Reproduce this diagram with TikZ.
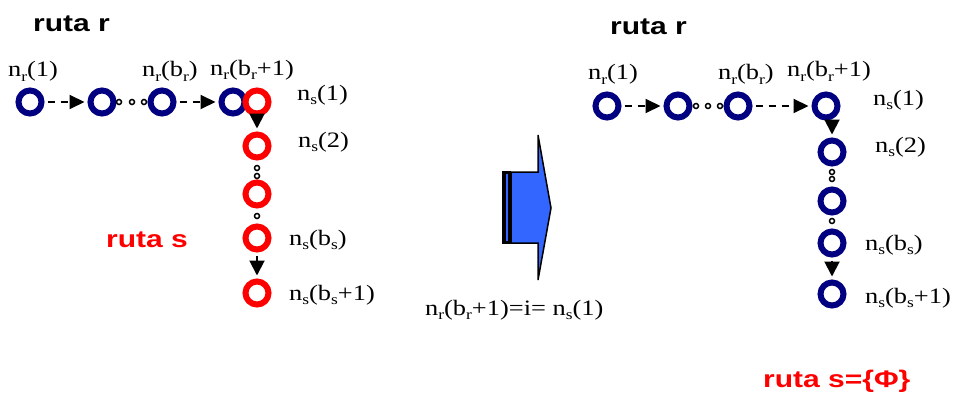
\documentclass[tikz,border=0pt]{standalone}
\usepackage{fontspec}
\setmainfont{Liberation Serif}[FakeStretch=1.2]
\newfontfamily\rutaface{Liberation Sans}[FakeStretch=1.25]
\usetikzlibrary{arrows.meta}
\definecolor{navyc}{RGB}{0,0,128}
\definecolor{redc}{RGB}{255,0,0}
\definecolor{arrowblue}{RGB}{51,102,255}
\newcommand\sbs[1]{\raisebox{-4.5pt}{\fontsize{14.5}{15}\selectfont #1}}
\newcommand\tnr{\fontsize{22}{24}\selectfont}
\newcommand\rutaf{\fontsize{24}{26}\selectfont\rutaface\bfseries}
\tikzset{
  nd/.style={circle, minimum size=23pt, inner sep=0pt, line width=6pt, fill=white},
  bl/.style={nd, draw=navyc},
  rd/.style={nd, draw=redc},
  dt/.style={circle, draw=black, fill=white, line width=1.5pt, minimum size=5pt, inner sep=0pt},
  darr/.style={line width=2pt, dash pattern=on 7pt off 6pt, -{Triangle[length=15pt,width=14pt]}, shorten >=3pt, shorten <=3pt},
  sarr/.style={line width=2pt, -{Triangle[length=15pt,width=15pt]}, shorten >=3pt, shorten <=3pt},
  lbl/.style={anchor=base west, inner sep=0pt, font=\tnr},
  ruta/.style={anchor=base west, inner sep=0pt, font=\rutaf}
}
\begin{document}
\begin{tikzpicture}[x=1pt,y=-1pt]
\useasboundingbox (0,0) rectangle (953,396);
% ---------------- left diagram ----------------
\node[ruta] (lrr) at (33,32) {ruta r};
\node[bl] (l1) at (30,102) {};
\node[bl] (l2) at (102,102) {};
\node[bl] (l3) at (162,102) {};
\node[bl] (l4) at (233,102) {};
\node[rd] (ls1) at (257,102) {};
\node[rd] (ls2) at (257,146) {};
\node[rd] (ls3) at (257,194) {};
\node[rd] (ls4) at (257,238) {};
\node[rd] (ls5) at (257,293) {};
\node[dt] (ld1) at (119,102) {};
\node[dt] (ld2) at (132,102) {};
\node[dt] (ld3) at (144,102) {};
\node[dt] (ld4) at (257,168) {};
\node[dt] (ld5) at (257,176) {};
\node[dt] (ld6) at (257,216) {};
\draw[darr] (l1) -- (l2);
\draw[darr] (l3) -- (l4);
\draw[sarr] (ls1) -- (ls2);
\draw[sarr] (ls4) -- (ls5);
\node[lbl] (tl1) at (8,77) {n\sbs{r}(1)};
\node[lbl] (tl3) at (142,77) {n\sbs{r}(b\sbs{r})};
\node[lbl] (tl4) at (210,75) {n\sbs{r}(b\sbs{r}+1)};
\node[lbl] (tls1) at (297,100) {n\sbs{s}(1)};
\node[lbl] (tls2) at (298,147) {n\sbs{s}(2)};
\node[lbl] (tls4) at (289,245) {n\sbs{s}(b\sbs{s})};
\node[lbl] (tls5) at (289,300) {n\sbs{s}(b\sbs{s}+1)};
\node[ruta, text=redc] (lrs) at (106,247) {ruta s};
% ---------------- middle arrow ----------------
\fill[black] (502,172) rectangle (511,243);
\draw[arrowblue, line width=1.2pt] (507,174) -- (507,241);
\draw[fill=arrowblue, line width=1.5pt, line join=miter]
  (511,172) -- (538,172) -- (538,135) -- (551,208) -- (538,280) -- (538,243) -- (511,243) -- cycle;
\draw[line width=1.5pt] (502,172) -- (511,172) (502,243) -- (511,243);
\node[lbl] (eq) at (425,315) {n\sbs{r}(b\sbs{r}+1)=i= n\sbs{s}(1)};
% ---------------- right diagram ----------------
\node[ruta] (rrr) at (610,35) {ruta r};
\node[bl] (r1) at (607,106) {};
\node[bl] (r2) at (678,106) {};
\node[bl] (r3) at (738,106) {};
\node[bl] (r4) at (826,106) {};
\node[bl] (rs2) at (832,152) {};
\node[bl] (rs3) at (832,201) {};
\node[bl] (rs4) at (832,243) {};
\node[bl] (rs5) at (832,294) {};
\node[dt] (rd1) at (696,106) {};
\node[dt] (rd2) at (708,106) {};
\node[dt] (rd3) at (720,106) {};
\node[dt] (rd4) at (832,172) {};
\node[dt] (rd5) at (832,179) {};
\node[dt] (rd6) at (832,221) {};
\draw[darr] (r1) -- (r2);
\draw[darr] (r3) -- (r4);
\draw[sarr, shorten <=0pt] (r4.south -| rs2.north) -- (rs2);
\draw[sarr] (rs4) -- (rs5);
\node[lbl] (tr1) at (588,80) {n\sbs{r}(1)};
\node[lbl] (tr3) at (718,80) {n\sbs{r}(b\sbs{r})};
\node[lbl] (tr4) at (787,77) {n\sbs{r}(b\sbs{r}+1)};
\node[lbl] (trs1) at (873,105) {n\sbs{s}(1)};
\node[lbl] (trs2) at (875,152) {n\sbs{s}(2)};
\node[lbl] (trs4) at (865,250) {n\sbs{s}(b\sbs{s})};
\node[lbl] (trs5) at (865,303) {n\sbs{s}(b\sbs{s}+1)};
\node[ruta, text=redc] (rrs) at (763,387) {ruta s=\{Φ\}};
\end{tikzpicture}
\end{document}
